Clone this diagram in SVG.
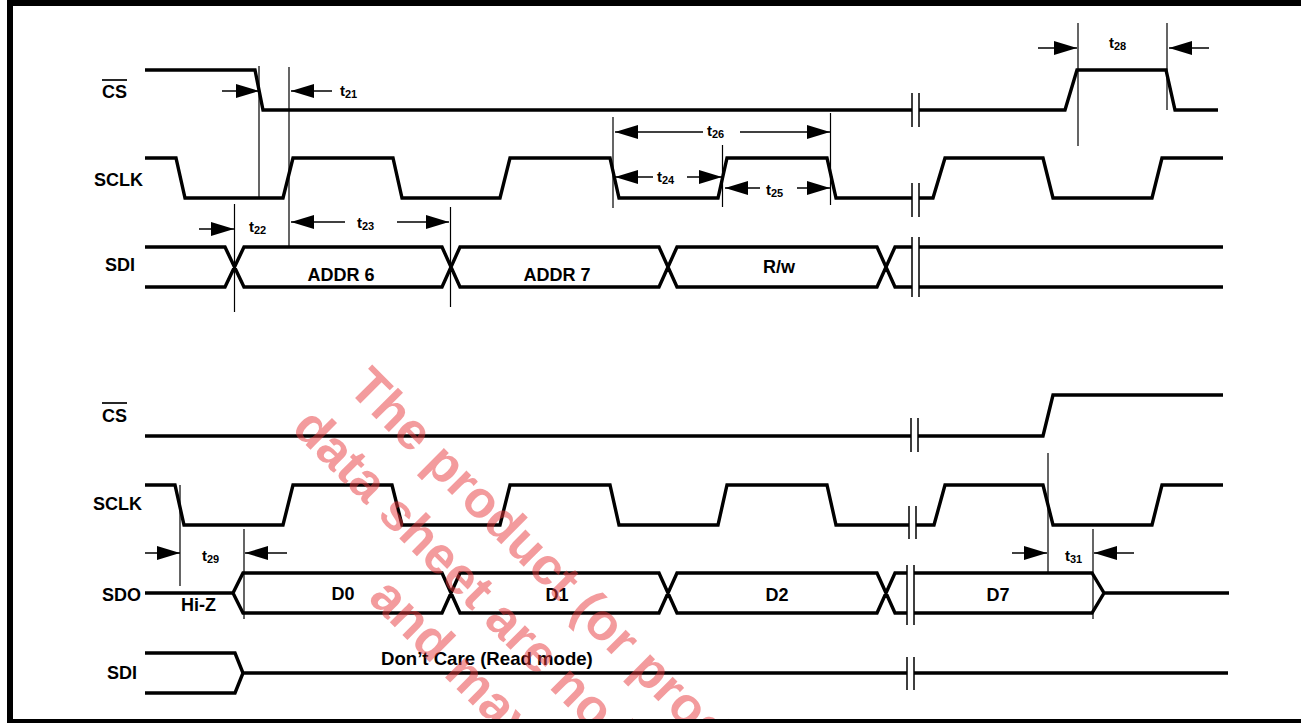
<svg xmlns="http://www.w3.org/2000/svg" width="1301" height="723" viewBox="0 0 1301 723">
<style>
.sig{fill:none;stroke:#000;stroke-width:3.4;stroke-linejoin:miter;stroke-linecap:butt}
.brk{fill:none;stroke:#000;stroke-width:1.5}
.ext{fill:none;stroke:#000;stroke-width:1.2}
.arr{fill:none;stroke:#000;stroke-width:1.5;marker-end:url(#ah)}
.lbl{font-family:"Liberation Sans",Arial,sans-serif;font-weight:bold;font-size:18px;fill:#000}
.mid{text-anchor:middle}
.tl{font-family:"Liberation Sans",Arial,sans-serif;font-weight:bold;font-size:15px;fill:#000}
.sub{font-size:11px}
.ov{stroke:#000;stroke-width:1.7}
.wm{font-family:"Liberation Sans",Arial,sans-serif;font-weight:bold;font-size:52px;fill:#e8393d;opacity:0.5}
</style>
<defs>
<marker id="ah" markerUnits="userSpaceOnUse" markerWidth="23" markerHeight="14" refX="23" refY="7" orient="auto">
<path d="M0,0 L23,7 L0,14 Z" fill="#000"/>
</marker>
</defs>
<rect x="0" y="0" width="1301" height="723" fill="#fff"/>

<g id="cs-top">
<text class="lbl" x="102" y="98">CS</text><line class="ov" x1="102" y1="80" x2="127" y2="80"/>
<path class="sig" d="M145,70 H255 L263,110 H912 M919,110 H1065 L1077,70 H1166 L1175,110 H1218"/>
<path class="brk" d="M912,93 V127 M919,93 V127"/>
</g>
<g id="sclk-top">
<text class="lbl" x="94" y="186">SCLK</text>
<path class="sig" d="M145,158 H176 L185,198 H283 L293,158 H393 L402,198 H500 L510,158 H610 L619,198 H718 L727,158 H827 L836,198 H912 M919,198 H933 L945,158 H1043 L1053,198 H1152 L1162,158 H1223"/>
<path class="brk" d="M912,183 V217 M919,183 V217"/>
</g>
<g id="sdi-top">
<text class="lbl" x="105" y="271">SDI</text>
<path class="sig" d="M145,247 H225 L244,287 H442 L460,247 H659 L677,287 H877 L895,247 H912 M145,287 H225 L244,247 H442 L460,287 H659 L677,247 H877 L895,287 H912 M919,247 H1223 M919,287 H1223"/>
<path class="brk" d="M912,237 V297 M919,237 V297"/>
<text class="lbl mid" x="341" y="281">ADDR 6</text>
<text class="lbl mid" x="557" y="281">ADDR 7</text>
<text class="lbl mid" x="779" y="273">R/w</text>
</g>

<g id="cs-bot">
<text class="lbl" x="102" y="422">CS</text><line class="ov" x1="102" y1="403" x2="127" y2="403"/>
<path class="sig" d="M145,436 H911 M918,436 H1043 L1053,395 H1223"/>
<path class="brk" d="M911,418 V452 M918,418 V452"/>
</g>
<g id="sclk-bot">
<text class="lbl" x="93" y="510">SCLK</text>
<path class="sig" d="M145,485 H175 L184,525 H283 L293,485 H392 L402,525 H500 L510,485 H610 L619,525 H718 L727,485 H827 L836,525 H909 M916,525 H934 L945,485 H1043 L1053,525 H1152 L1162,485 H1223"/>
<path class="brk" d="M909,506 V539 M916,506 V539"/>
</g>
<g id="sdo">
<text class="lbl" x="102" y="601">SDO</text>
<path class="sig" d="M145,593 H233 L243,573 H442 L460,613 H659 L677,573 H877 L895,613 H907 M233,593 L243,613 H442 L460,573 H659 L677,613 H877 L895,573 H907 M914,573 H1092 L1104,593 L1092,613 H914 M1104,593 H1229"/>
<path class="brk" d="M907,565 V625 M914,565 V625"/>
<text class="lbl" x="181" y="611">Hi-Z</text>
<text class="lbl mid" x="343" y="600">D0</text>
<text class="lbl mid" x="557" y="601">D1</text>
<text class="lbl mid" x="777" y="601">D2</text>
<text class="lbl mid" x="998" y="601">D7</text>
</g>
<g id="sdi-bot">
<text class="lbl" x="107" y="679">SDI</text>
<path class="sig" d="M145,653 H235 L243,673 L235,693 H145 M243,673 H907 M914,673 H1228"/>
<path class="brk" d="M907,657 V690 M914,657 V690"/>
<text class="lbl" x="381" y="665" style="font-size:18.6px">Don’t Care (Read mode)</text>
</g>

<g id="connectors">
<path class="ext" d="M259,66 V197 M289,67 V247 M234.5,204 V312 M450.5,207 V307 M613,117 V208 M722.5,145 V207 M830.5,113 V205 M1078,23 V146 M1167,23 V110 M180,485 V586 M244,529 V619 M1048,453 V572 M1093,529 V619"/>
<line class="arr" x1="222" y1="91" x2="259" y2="91"/>
<line class="arr" x1="332" y1="91" x2="291" y2="91"/>
<line class="arr" x1="199" y1="229" x2="234" y2="229"/>
<line class="arr" x1="345" y1="222" x2="291" y2="222"/>
<line class="arr" x1="397" y1="222" x2="449" y2="222"/>
<line class="arr" x1="703" y1="132" x2="615" y2="132"/>
<line class="arr" x1="740" y1="132" x2="830" y2="132"/>
<line class="arr" x1="653" y1="177" x2="615" y2="177"/>
<line class="arr" x1="687" y1="177" x2="722" y2="177"/>
<line class="arr" x1="760" y1="188" x2="725" y2="188"/>
<line class="arr" x1="797" y1="188" x2="830" y2="188"/>
<line class="arr" x1="1038" y1="48" x2="1077" y2="48"/>
<line class="arr" x1="1209" y1="48" x2="1169" y2="48"/>
<line class="arr" x1="145" y1="553" x2="180" y2="553"/>
<line class="arr" x1="287" y1="553" x2="245" y2="553"/>
<line class="arr" x1="1012" y1="553" x2="1047" y2="553"/>
<line class="arr" x1="1134" y1="553" x2="1094" y2="553"/>
<text class="tl" x="340" y="96">t<tspan class="sub" dy="2">21</tspan></text>
<text class="tl" x="249" y="232">t<tspan class="sub" dy="2">22</tspan></text>
<text class="tl" x="357" y="228">t<tspan class="sub" dy="2">23</tspan></text>
<text class="tl" x="657" y="182">t<tspan class="sub" dy="2">24</tspan></text>
<text class="tl" x="766" y="195">t<tspan class="sub" dy="2">25</tspan></text>
<text class="tl" x="707" y="136">t<tspan class="sub" dy="2">26</tspan></text>
<text class="tl" x="1109" y="48">t<tspan class="sub" dy="2">28</tspan></text>
<text class="tl" x="202" y="561">t<tspan class="sub" dy="2">29</tspan></text>
<text class="tl" x="1065" y="561">t<tspan class="sub" dy="2">31</tspan></text>
</g>

<g id="watermark" transform="translate(357,400) rotate(45)">
<text class="wm" x="-15" y="0">The product (or products)</text>
<text class="wm" x="-26" y="68">data sheet are no longer</text>
<text class="wm" x="148" y="134">and may</text>
</g>

<rect x="10" y="3" width="1294" height="719" fill="none" stroke="#000" stroke-width="6"/>
</svg>
